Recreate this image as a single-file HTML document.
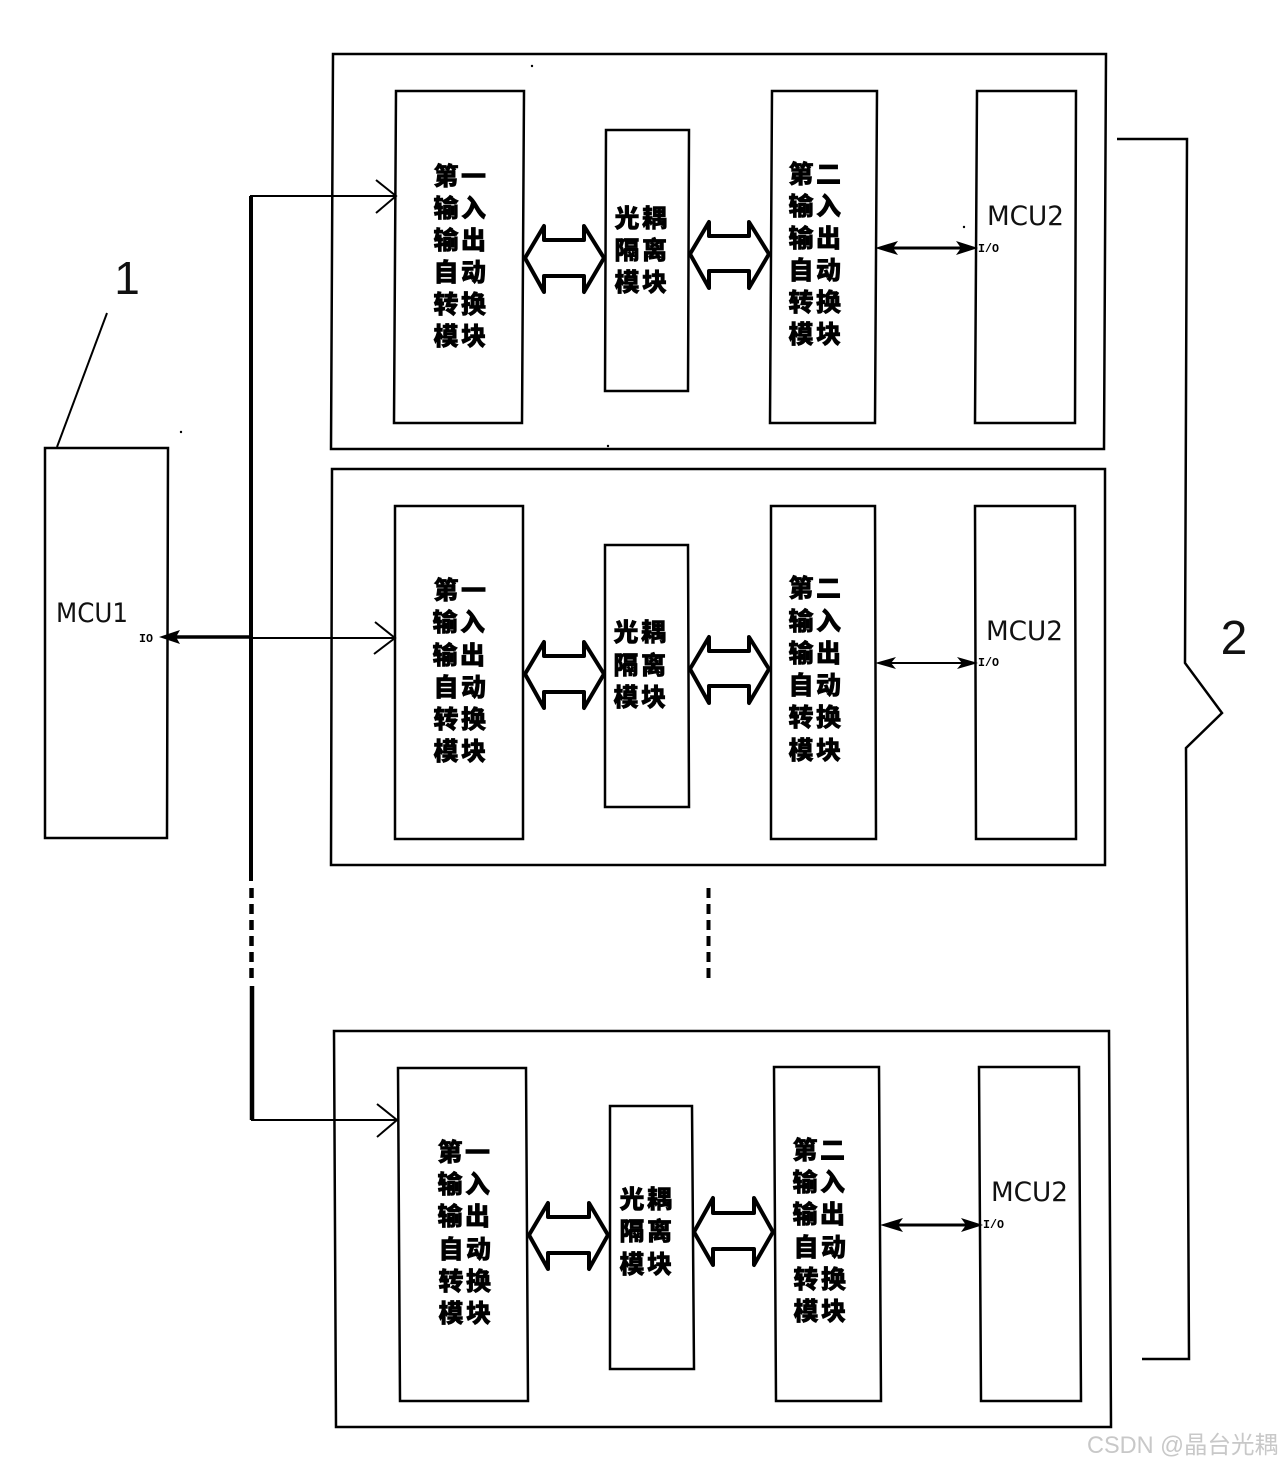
<!DOCTYPE html>
<html><head><meta charset="utf-8">
<style>
html,body{margin:0;padding:0;background:#fff;width:1280px;height:1466px;overflow:hidden}
svg{display:block}
.k{font-family:"Liberation Sans","Noto Sans CJK SC",sans-serif;font-weight:900;font-size:25px;stroke:#000;stroke-width:.6;fill:#000;text-anchor:middle;letter-spacing:2.5px}
.m{font-family:"DejaVu Sans","Liberation Sans",sans-serif;font-size:27px;fill:#111;font-weight:400}
.s{font-family:"Liberation Mono",monospace;font-weight:700;font-size:12px;fill:#000}
.b{fill:none;stroke:#000;stroke-width:2.5}
.a{fill:none;stroke:#000;stroke-width:4;stroke-linejoin:round}
.l{fill:none;stroke:#000;stroke-width:2}
</style></head>
<body>
<svg width="1280" height="1466" viewBox="0 0 1280 1466" xmlns="http://www.w3.org/2000/svg">
<rect width="1280" height="1466" fill="#fff"/>

<!-- MCU1 -->
<polygon class="b" points="45,448 168,448 167,838 45,838"/>
<text class="m" x="56" y="622" textLength="72" lengthAdjust="spacingAndGlyphs">MCU1</text>
<text class="s" x="139" y="642" textLength="14" lengthAdjust="spacingAndGlyphs">IO</text>
<path class="l" d="M107,313 L57,447"/>
<text x="127" y="294" font-family="Liberation Sans,sans-serif" font-size="46" fill="#111" text-anchor="middle" font-weight="400">1</text>

<!-- Bus -->
<path fill="none" stroke="#000" stroke-width="4" d="M251,196 L251,881"/>
<path fill="none" stroke="#000" stroke-width="4.5" stroke-dasharray="10,6" d="M251.500,888 L251.500,978"/>
<path fill="none" stroke="#000" stroke-width="4.500" d="M252,986 L252,1120"/>
<path class="l" d="M250,196 L395,196 M376,180 L396,196 L376,213"/>
<path class="l" d="M250,638 L394,638 M375,622 L395,638 L374,654"/>
<path class="l" d="M251,1120 L396,1120 M377,1104 L397,1120 L377,1137"/>
<path fill="none" stroke="#000" stroke-width="3.500" d="M170,637 L250,637"/>
<polygon fill="#000" points="159,637 180,630 176,637 180,644"/>

<!-- Group 1 -->
<polygon class="b" points="333,54 1106,54 1104,449 331,449"/>
<polygon class="b" points="396,91 524,91 522,423 394,423"/>
<polygon class="b" points="606,130 689,130 688,391 605,391"/>
<polygon class="b" points="772,91 877,91 875,423 770,423"/>
<polygon class="b" points="977,91 1076,91 1075,423 975,423"/>
<text class="k" x="461" y="185">第一</text>
<text class="k" x="461" y="217">输入</text>
<text class="k" x="461" y="249">输出</text>
<text class="k" x="461" y="281">自动</text>
<text class="k" x="461" y="313">转换</text>
<text class="k" x="461" y="345">模块</text>
<text class="k" x="642" y="227">光耦</text>
<text class="k" x="642" y="259">隔离</text>
<text class="k" x="642" y="291">模块</text>
<text class="k" x="816" y="183">第二</text>
<text class="k" x="816" y="215">输入</text>
<text class="k" x="816" y="247">输出</text>
<text class="k" x="816" y="279">自动</text>
<text class="k" x="816" y="311">转换</text>
<text class="k" x="816" y="343">模块</text>
<polygon class="a" points="525,258 544,226 544,240 584,240 584,226 604,258 584,292 584,276 544,276 544,292"/>
<polygon class="a" points="690,254 709,222 709,236 749,236 749,222 769,254 749,288 749,271 709,271 709,288"/>
<text class="m" x="987" y="225" textLength="77" lengthAdjust="spacingAndGlyphs">MCU2</text>
<text class="s" x="978" y="252" textLength="21" lengthAdjust="spacingAndGlyphs">I/O</text>
<path fill="none" stroke="#000" stroke-width="3" d="M880,248 L972,248"/>
<polygon fill="#000" points="875,248 898,241 893,248 898,255"/>
<polygon fill="#000" points="978,248 956,241 961,248 956,255"/>

<!-- Group 2 -->
<polygon class="b" points="332,469 1105,469 1105,865 331,865"/>
<polygon class="b" points="395,506 523,506 523,839 395,839"/>
<polygon class="b" points="605,545 688,545 689,807 605,807"/>
<polygon class="b" points="771,506 875,506 876,839 771,839"/>
<polygon class="b" points="975,506 1075,506 1076,839 976,839"/>
<text class="k" x="461" y="599">第一</text>
<text class="k" x="460" y="631">输入</text>
<text class="k" x="460" y="664">输出</text>
<text class="k" x="461" y="696">自动</text>
<text class="k" x="461" y="728">转换</text>
<text class="k" x="461" y="760">模块</text>
<text class="k" x="641" y="641">光耦</text>
<text class="k" x="641" y="674">隔离</text>
<text class="k" x="641" y="706">模块</text>
<text class="k" x="816" y="597">第二</text>
<text class="k" x="816" y="630">输入</text>
<text class="k" x="816" y="662">输出</text>
<text class="k" x="816" y="694">自动</text>
<text class="k" x="816" y="726">转换</text>
<text class="k" x="816" y="759">模块</text>
<polygon class="a" points="525,674 544,642 544,656 584,656 584,642 604,674 584,708 584,692 544,692 544,708"/>
<polygon class="a" points="690,669 709,637 709,651 749,651 749,637 769,669 749,703 749,686 709,686 709,703"/>
<text class="m" x="986" y="640" textLength="77" lengthAdjust="spacingAndGlyphs">MCU2</text>
<text class="s" x="978" y="666" textLength="21" lengthAdjust="spacingAndGlyphs">I/O</text>
<path class="l" d="M880,663 L972,663"/>
<polygon fill="#000" points="875,663 896,657 891,663 896,669"/>
<polygon fill="#000" points="978,663 957,657 962,663 957,669"/>

<!-- dashed centre -->
<path fill="none" stroke="#000" stroke-width="4" stroke-dasharray="10,6" d="M708.500,888 L708.500,978"/>

<!-- Group 3 -->
<polygon class="b" points="334,1031 1109,1031 1111,1427 336,1427"/>
<polygon class="b" points="398,1068 526,1068 528,1401 400,1401"/>
<polygon class="b" points="610,1106 692,1106 694,1369 610,1369"/>
<polygon class="b" points="774,1067 879,1067 881,1401 776,1401"/>
<polygon class="b" points="979,1067 1079,1067 1081,1401 981,1401"/>
<text class="k" x="465" y="1161">第一</text>
<text class="k" x="465" y="1193">输入</text>
<text class="k" x="465" y="1225">输出</text>
<text class="k" x="466" y="1258">自动</text>
<text class="k" x="466" y="1290">转换</text>
<text class="k" x="466" y="1322">模块</text>
<text class="k" x="647" y="1208">光耦</text>
<text class="k" x="647" y="1240">隔离</text>
<text class="k" x="647" y="1273">模块</text>
<text class="k" x="820" y="1159">第二</text>
<text class="k" x="820" y="1191">输入</text>
<text class="k" x="820" y="1223">输出</text>
<text class="k" x="821" y="1256">自动</text>
<text class="k" x="821" y="1288">转换</text>
<text class="k" x="821" y="1320">模块</text>
<polygon class="a" points="529,1235 548,1203 548,1217 589,1217 589,1203 608,1235 589,1269 589,1253 548,1253 548,1269"/>
<polygon class="a" points="694,1232 713,1198 713,1213 754,1213 754,1198 773,1232 754,1265 754,1249 713,1249 713,1265"/>
<text class="m" x="991" y="1201" textLength="77" lengthAdjust="spacingAndGlyphs">MCU2</text>
<text class="s" x="983" y="1228" textLength="21" lengthAdjust="spacingAndGlyphs">I/O</text>
<path fill="none" stroke="#000" stroke-width="3" d="M885,1225 L977,1225"/>
<polygon fill="#000" points="880,1225 903,1218 898,1225 903,1232"/>
<polygon fill="#000" points="983,1225 961,1218 966,1225 961,1232"/>

<!-- Brace -->
<path fill="none" stroke="#000" stroke-width="2.500" d="M1117,139 L1187,139 L1185,663 L1222,713 L1186,748 L1189,1359 L1142,1359"/>
<text x="1234" y="654" font-family="Liberation Sans,sans-serif" font-size="48" fill="#111" text-anchor="middle" font-weight="400">2</text>

<!-- specks -->
<circle cx="532" cy="66" r="1.200" fill="#000"/>
<circle cx="181" cy="432" r="1.200" fill="#000"/>
<circle cx="964" cy="227" r="1.200" fill="#000"/>
<circle cx="608" cy="446" r="1.200" fill="#000"/>

<!-- watermark -->
<text x="1087" y="1453" font-family="Liberation Sans,'Noto Sans CJK SC',sans-serif" font-size="24" fill="#c8c8c8" textLength="191" lengthAdjust="spacingAndGlyphs">CSDN @晶台光耦</text>
</svg>
</body></html>
